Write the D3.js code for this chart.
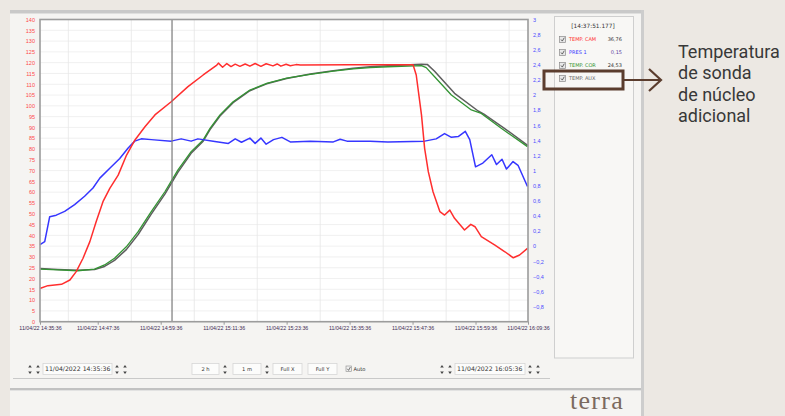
<!DOCTYPE html>
<meta charset="utf-8">
<style>
    body { margin: 0; background: #ece8e3; }
    svg { display: block; }
    .tick text { font-family: "Liberation Sans", Arial, sans-serif; }
</style>
<body>
<script src="https://cdn.jsdelivr.net/npm/d3@7"></script>
<script>

    // minutes elapsed since 11/04/2022 14:35:36, value
    var tempCam = [
        [1.0, 15.4], [1.1, 15.5], [2.5, 16.7], [5.1, 17.3], [6.7, 19.3], [7.9, 23.2], [9.2, 29.4],
        [10.5, 37.1], [11.7, 46.3], [13.0, 55.6], [14.3, 61.8], [15.9, 67.9], [17.5, 77.2], [19.1, 84.2],
        [21.0, 90.3], [22.9, 95.8], [26.0, 101.9], [29.2, 108.9], [32.1, 114.3], [34.7, 118.9],
        [35.0, 119.8], [35.8, 117.9], [36.6, 119.6], [37.4, 118.2], [38.2, 119.3], [39.1, 118.3],
        [40.1, 119.4], [41.0, 118.4], [42.0, 119.6], [43.1, 118.3], [44.1, 119.5], [45.4, 118.5],
        [46.2, 119.4], [46.9, 118.4], [47.9, 119.3], [48.7, 118.6], [49.8, 119.1], [50.6, 118.9],
        [60.0, 119.0], [72.1, 119.0], [72.7, 114.3], [73.7, 95.8], [74.3, 80.3], [75.0, 69.5],
        [75.9, 60.2], [77.2, 51.0], [78.1, 49.4], [79.1, 51.7], [80.0, 47.9], [81.9, 42.5],
        [83.1, 45.1], [83.9, 44.0], [85.1, 39.4], [87.7, 35.5], [89.6, 32.4], [91.2, 29.6],
        [92.4, 30.9], [93.9, 34.0]
    ];

    var pres1 = [
        [1.0, 0.02], [1.9, 0.06], [2.85, 0.39], [4.1, 0.41], [5.7, 0.46], [7.6, 0.55], [9.5, 0.66],
        [11.1, 0.77], [12.4, 0.90], [14.3, 1.03], [16.2, 1.16], [17.8, 1.30], [19.05, 1.39],
        [20.3, 1.42], [22.2, 1.41], [26.0, 1.39], [27.9, 1.42], [29.8, 1.39], [31.1, 1.42],
        [34.0, 1.39], [36.9, 1.36], [38.2, 1.42], [39.4, 1.375], [41.0, 1.43], [42.0, 1.36],
        [43.1, 1.43], [44.1, 1.35], [45.5, 1.41], [47.1, 1.44], [48.7, 1.38], [52.5, 1.39],
        [56.9, 1.38], [58.2, 1.415], [59.5, 1.39], [63.9, 1.39], [67.3, 1.38], [74.3, 1.39],
        [76.5, 1.42], [78.1, 1.49], [79.4, 1.44], [80.7, 1.45], [82.05, 1.52], [82.9, 1.41],
        [84.0, 1.05], [85.4, 1.10], [87.1, 1.21], [88.0, 1.08], [89.05, 1.15], [89.9, 1.02],
        [91.15, 1.12], [92.1, 1.07], [93.9, 0.79]
    ];

    var tempCor = [
        [1.0, 24.4], [4.4, 24.0], [8.2, 23.6], [11.4, 24.4], [13.3, 26.3], [15.2, 29.4], [17.45, 34.7],
        [19.7, 41.7], [22.2, 51.0], [24.8, 60.2], [27.3, 70.3], [29.8, 78.8], [32.1, 84.2],
        [33.4, 89.6], [35.3, 95.8], [37.8, 101.9], [41.0, 107.3], [44.2, 110.4], [48.0, 112.8],
        [52.5, 114.6], [56.9, 116.1], [60.7, 117.1], [63.9, 117.7], [67.3, 118.1], [73.7, 118.6],
        [74.6, 117.7], [76.2, 113.5], [79.4, 105.0], [83.2, 98.1], [85.1, 96.5], [88.9, 89.6],
        [93.9, 81.1]
    ];

    var tempAux = [
        [1.0, 24.6], [4.4, 24.2], [8.2, 23.8], [11.4, 24.2], [13.3, 25.6], [15.2, 28.4], [17.45, 33.4],
        [19.7, 40.4], [22.2, 49.8], [24.8, 59.1], [27.3, 69.3], [29.8, 78.0], [32.1, 83.6],
        [33.4, 89.0], [35.3, 95.3], [37.8, 101.5], [41.0, 107.0], [44.2, 110.2], [48.0, 112.7],
        [52.5, 114.7], [56.9, 116.3], [60.7, 117.4], [63.9, 118.1], [67.3, 118.6], [73.7, 119.3],
        [74.8, 119.2], [76.2, 116.0], [80.0, 105.8], [84.5, 97.6], [85.6, 96.2], [89.5, 89.6],
        [94.0, 81.6]
    ];

    var xTickMinutes = [0, 12, 24, 36, 48, 60, 72, 84, 94];
    var gridMinutes = [6.4, 18.4, 30.4, 42.4, 54.4, 66.4, 78.4, 90.4];
    var cursorMinute = 26.16;
    var leftTicks = d3.range(0, 141, 5);
    var rightTicks = [3, 2.8, 2.6, 2.4, 2.2, 2, 1.8, 1.6, 1.4, 1.2, 1, 0.8, 0.6, 0.4, 0.2, 0,
        -0.2, -0.4, -0.6, -0.8];

    var legendNames = ["TEMP. CAM", "PRES 1", "TEMP. COR", "TEMP. AUX"];
    var legendValues = ["36,76", "0,15", "24,53", ""];
    var legendTime = "[14:37:51.177]";
    var noteLines = ["Temperatura", "de sonda", "de núcleo", "adicional"];

    var colors = {cam: "#ff2e2e", pres: "#3636ff", cor: "#339433", aux: "#5e5e5e"};

    var t0 = new Date(2022, 3, 11, 14, 35, 36);
    function at(m) { return new Date(+t0 + m * 60000); }

    var plot = {left: 40, right: 528, top: 19.5, bottom: 321.7};

    var x = d3.scaleTime()
            .domain([at(1), at(94)])
            .range([plot.left, plot.right])
            .clamp(true);
    var yL = d3.scaleLinear().domain([0, 140]).range([plot.bottom, plot.top]);
    var yR = d3.scaleLinear().domain([-1, 3]).range([plot.bottom, plot.top]);

    var svg = d3.select("body").append("svg")
            .attr("width", 785)
            .attr("height", 416);

    // screenshot panel
    svg.append("rect").attr("x", 10).attr("y", 10).attr("width", 632).attr("height", 406).attr("fill", "#f5f4f2");
    svg.append("rect").attr("x", 10).attr("y", 10).attr("width", 632).attr("height", 3.5).attr("fill", "#c9c9c9");
    svg.append("rect").attr("x", 641).attr("y", 10).attr("width", 3).attr("height", 406).attr("fill", "#cdcdcd");

    // plot background + grid
    svg.append("rect")
            .attr("x", plot.left).attr("y", plot.top)
            .attr("width", plot.right - plot.left).attr("height", plot.bottom - plot.top)
            .attr("fill", "#fff");

    svg.append("g").selectAll("line").data(leftTicks).join("line")
            .attr("x1", plot.left).attr("x2", plot.right)
            .attr("y1", function(d) { return yL(d); }).attr("y2", function(d) { return yL(d); })
            .attr("stroke", "#ececec").attr("stroke-width", 0.8);

    svg.append("g").selectAll("line").data(gridMinutes).join("line")
            .attr("x1", function(d) { return x(at(d)); }).attr("x2", function(d) { return x(at(d)); })
            .attr("y1", plot.top).attr("y2", plot.bottom)
            .attr("stroke", "#e6e6e6").attr("stroke-width", 0.8);

    // axes
    var fmtTime = d3.timeFormat("%d/%m/%y %H:%M:%S");
    var xAxis = d3.axisBottom(x)
            .tickValues(xTickMinutes.map(at))
            .tickFormat(fmtTime)
            .tickSize(3)
            .tickPadding(2);
    var gx = svg.append("g")
            .attr("transform", "translate(0," + plot.bottom + ")")
            .call(xAxis);
    gx.select(".domain").remove();
    gx.selectAll("line").attr("stroke", "#999");
    gx.selectAll("text").attr("font-size", 5.3).attr("fill", "#3f2c55");

    var yAxisL = d3.axisLeft(yL).tickValues(leftTicks).tickSize(0).tickPadding(5);
    var gl = svg.append("g").attr("transform", "translate(" + plot.left + ",0)").call(yAxisL);
    gl.select(".domain").remove();
    gl.selectAll("text").attr("font-size", 5.5).attr("fill", "#ff4a4a");

    var comma = d3.formatLocale({decimal: ",", thousands: ".", grouping: [3], currency: ["", ""]}).format("~g");
    var yAxisR = d3.axisRight(yR).tickValues(rightTicks).tickFormat(comma).tickSize(0).tickPadding(5);
    var gr = svg.append("g").attr("transform", "translate(" + plot.right + ",0)").call(yAxisR);
    gr.select(".domain").remove();
    gr.selectAll("text").attr("font-size", 5.5).attr("fill", "#4b4bff");

    // series
    var lineL = d3.line()
            .x(function(d) { return x(at(d[0])); })
            .y(function(d) { return yL(d[1]); });
    var lineR = d3.line()
            .x(function(d) { return x(at(d[0])); })
            .y(function(d) { return yR(d[1]); });

    function drawLine(data, gen, color, w) {
        svg.append("path").datum(data)
                .attr("d", gen)
                .attr("fill", "none")
                .attr("stroke", color)
                .attr("stroke-width", w)
                .attr("stroke-linejoin", "round");
    }
    drawLine(tempAux, lineL, colors.aux, 1.5);
    drawLine(tempCor, lineL, colors.cor, 1.3);
    drawLine(pres1, lineR, colors.pres, 1.5);
    drawLine(tempCam, lineL, colors.cam, 1.5);

    // cursor
    svg.append("line")
            .attr("x1", x(at(cursorMinute))).attr("x2", x(at(cursorMinute)))
            .attr("y1", plot.top).attr("y2", plot.bottom)
            .attr("stroke", "#7a7a7a").attr("stroke-width", 1.2);

    // plot frame
    svg.append("rect")
            .attr("x", plot.left).attr("y", plot.top)
            .attr("width", plot.right - plot.left).attr("height", plot.bottom - plot.top)
            .attr("fill", "none").attr("stroke", "#9c9c9c").attr("stroke-width", 1.6);

    // legend box
    svg.append("rect").attr("x", 554.5).attr("y", 16.5).attr("width", 79).attr("height", 341.5)
            .attr("fill", "#f8f7f5").attr("stroke", "#cfcfcf");
    svg.append("text").attr("x", 593).attr("y", 28).attr("text-anchor", "middle")
            .attr("font-family", "DejaVu Sans").attr("font-size", 5.8).attr("fill", "#333")
            .text(legendTime);

    var legendColors = [colors.cam, colors.pres, colors.cor, "#666"];
    var valueColors = ["#333", "#5a3aa0", "#333", "#333"];
    var rows = svg.append("g").selectAll("g").data(legendNames).join("g")
            .attr("transform", function(d, i) { return "translate(0," + (39.5 + i * 13) + ")"; });
    rows.append("rect").attr("x", 559.5).attr("y", -3).attr("width", 6).attr("height", 6)
            .attr("fill", "#e8e8e8").attr("stroke", "#8a8a8a").attr("stroke-width", 0.7);
    rows.append("path").attr("d", "M561,0 L562.3,1.6 L564.3,-1.8")
            .attr("fill", "none").attr("stroke", "#444").attr("stroke-width", 0.8);
    rows.append("text").attr("x", 569).attr("y", 1.8)
            .attr("font-family", "DejaVu Sans").attr("font-size", 5)
            .attr("fill", function(d, i) { return legendColors[i]; })
            .text(function(d) { return d; });
    rows.append("text").attr("x", 622).attr("y", 1.8).attr("text-anchor", "end")
            .attr("font-family", "DejaVu Sans").attr("font-size", 5)
            .attr("fill", function(d, i) { return valueColors[i]; })
            .text(function(d, i) { return legendValues[i]; });

    // highlight + arrow
    var brown = "#5b3d2e";
    svg.append("rect").attr("x", 544).attr("y", 71).attr("width", 79).attr("height", 18)
            .attr("fill", "none").attr("stroke", brown).attr("stroke-width", 3);
    svg.append("line").attr("x1", 624).attr("x2", 661).attr("y1", 80).attr("y2", 80)
            .attr("stroke", brown).attr("stroke-width", 2.2);
    svg.append("path").attr("d", "M649,69 L661,80 L649,91")
            .attr("fill", "none").attr("stroke", brown).attr("stroke-width", 2.2);

    svg.append("g").selectAll("text").data(noteLines).join("text")
            .attr("x", 678).attr("y", function(d, i) { return 58 + i * 21.3; })
            .attr("font-family", "Roboto").attr("font-size", 18).attr("fill", "#383838")
            .text(function(d) { return d; });

    // bottom toolbar
    var tb = svg.append("g").attr("font-family", "DejaVu Sans").attr("fill", "#333");
    function spinner(cx) {
        tb.append("path").attr("d", "M" + (cx - 1.8) + ",367.5 L" + (cx + 1.8) + ",367.5 L" + cx + ",365 Z").attr("fill", "#444");
        tb.append("path").attr("d", "M" + (cx - 1.8) + ",371.5 L" + (cx + 1.8) + ",371.5 L" + cx + ",374 Z").attr("fill", "#444");
    }
    function box(x0, x1, label, anchor) {
        tb.append("rect").attr("x", x0).attr("y", 363.5).attr("width", x1 - x0).attr("height", 11)
                .attr("fill", "#fcfcfb").attr("stroke", "#d6d6d6").attr("stroke-width", 0.8);
        tb.append("text").attr("x", anchor === "start" ? x0 + 2 : (x0 + x1) / 2).attr("y", 371.3)
                .attr("text-anchor", anchor || "middle").attr("font-size", anchor === "start" ? 6.2 : 5.2)
                .text(label);
    }
    [30, 38].forEach(spinner);
    box(43, 112, "11/04/2022 14:35:36", "start");
    [117, 125].forEach(spinner);
    box(192, 219, "2 h");
    spinner(225);
    box(233, 261, "1 m");
    spinner(267);
    box(273, 302, "Full X");
    box(308, 337, "Full Y");
    tb.append("rect").attr("x", 346).attr("y", 366).attr("width", 5.5).attr("height", 5.5)
            .attr("fill", "#f0f0f0").attr("stroke", "#8a8a8a").attr("stroke-width", 0.6);
    tb.append("path").attr("d", "M347.3,368.8 L348.6,370.4 L350.4,367").attr("fill", "none").attr("stroke", "#444").attr("stroke-width", 0.7);
    tb.append("text").attr("x", 353.5).attr("y", 371.3).attr("font-size", 5.2).text("Auto");
    [442, 450].forEach(spinner);
    box(455, 525, "11/04/2022 16:05:36", "start");
    [530, 538].forEach(spinner);

    svg.append("line").attr("x1", 13).attr("x2", 550).attr("y1", 378.5).attr("y2", 378.5)
            .attr("stroke", "#c9c9c9").attr("stroke-width", 1);
    svg.append("rect").attr("x", 10).attr("y", 388).attr("width", 631).attr("height", 2).attr("fill", "#c2c2c2");
    svg.append("rect").attr("x", 10).attr("y", 390).attr("width", 631).attr("height", 1).attr("fill", "#e2e2e2");

    // logo
    svg.append("text").attr("x", 570).attr("y", 408.5)
            .attr("font-family", "Liberation Serif").attr("font-size", 26).attr("letter-spacing", 1.3)
            .attr("fill", "#7b6a5f").text("terra");

</script>
